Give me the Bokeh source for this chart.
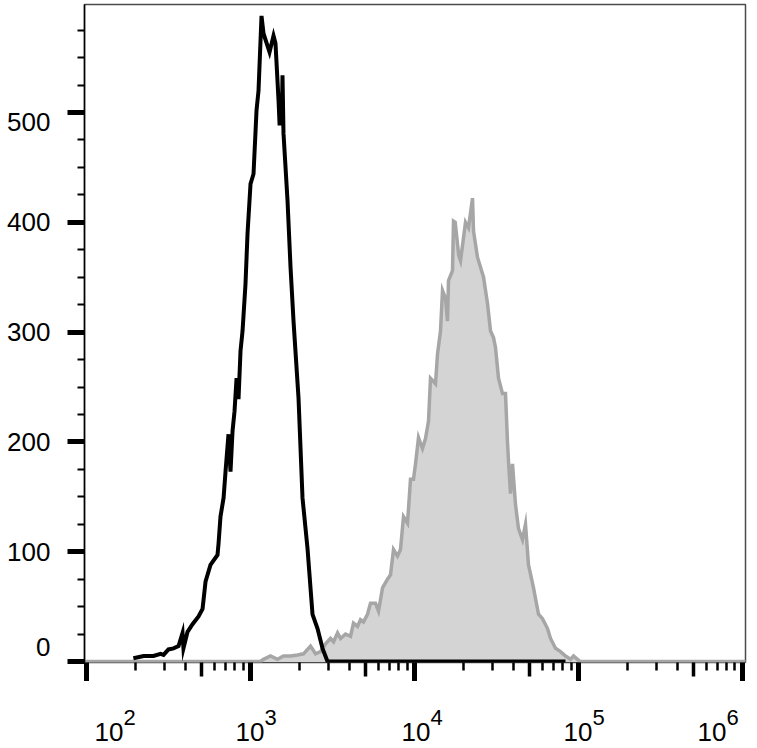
from bokeh.plotting import figure
from bokeh.layouts import column
from bokeh.models import Range1d, LogAxis, FixedTicker, SingleIntervalTicker
from bokeh.core.properties import value
from bokeh.embed import file_html
from bokeh.resources import INLINE

# ---------------- data ----------------
# control histogram (black line)
ctrl_x = [193, 223, 256, 283, 295, 316, 339, 364, 385, 390, 413, 443, 482, 510, 532,
          570, 629, 638, 656, 685, 704, 734, 755, 777, 799, 822, 845, 869, 894, 932,
          959, 1000, 1043, 1088, 1119, 1167, 1200, 1306, 1381, 1420, 1482, 1503, 1550,
          1567, 1589, 1681, 1754, 1829, 1962, 2075, 2226, 2388, 2562, 2748, 2948, 83300]
ctrl_y = [3, 5, 5, 7, 6, 11, 12, 14, 26, 12, 27, 34, 41, 48, 73,
          88, 97, 107, 132, 149, 173, 207, 173, 210, 228, 258, 239, 283, 301, 344,
          390, 435, 444, 502, 520, 588, 572, 555, 570, 563, 511, 490, 490,
          534, 481, 420, 359, 310, 240, 149, 103, 43, 30, 12, 0, 0]

# stained histogram (grey filled)
stain_x = [97, 1150, 1200, 1324, 1461, 1589, 1754, 1935, 2105, 2322, 2491, 2672, 2867,
           3075, 3208, 3393, 3539, 3796, 4072, 4246, 4491, 4685, 4887, 5168, 5391, 5783,
           6033, 6381, 6844, 7140, 7447, 7875, 8213, 8568, 9064, 9454, 9860, 10141, 10578,
           11187, 11669, 12172, 12516, 13428, 13809, 14405, 14816, 15453, 15892, 16117,
           17048, 17289, 17700, 18600, 19078, 20464, 21345, 22575, 22895, 24222, 25266,
           26354, 27866, 29069, 30317, 31177, 32523, 34394, 35873, 36898, 37500, 38486,
           39580, 41286, 43063, 45545, 47506, 49554, 53164, 57038, 60324, 64714, 67501,
           72416, 77685, 83336, 89393, 93236, 98606, 102000, 1050000]
stain_y = [0, 0, 2, 5, 2, 5, 5, 6, 7, 14, 7, 9, 16,
           21, 18, 26, 21, 25, 23, 35, 32, 38, 36, 43, 53, 53,
           46, 67, 75, 79, 102, 96, 102, 132, 126, 166, 166, 180, 204,
           194, 203, 219, 258, 253, 280, 301, 338, 331, 310, 347,
           356, 401, 400, 370, 365, 400, 395, 422, 392, 368, 359,
           350, 326, 301, 295, 286, 258, 244, 244, 200, 180, 153,
           180, 143, 121, 111, 125, 88, 67, 43, 39, 30, 21,
           12, 9, 5, 2, 5, 2, 0, 0]

# axes
x_decades = [1e2, 1e3, 1e4, 1e5, 1e6]
x_base_labels = ["10", "10", "10", "10", "10"]
x_exponents = ["2", "3", "4", "5", "6"]
x_half = [5e2, 5e3, 5e4, 5e5]
x_minor = [m * 10 ** n for n in range(2, 6) for m in (2, 3, 4, 6, 7, 8, 9)]
y_ticks = [0, 100, 200, 300, 400, 500]

# ---------------- styles ----------------
FONT = "Liberation Sans"
X_START, X_END = 97.2, 1.043e6
base_dx = [8, -15, -13, -15, -45]       # px shift of "10" per label
sup_dx = [d + 29 for d in base_dx]

p = figure(width=757, height=681, x_axis_type="log", title=None,
           x_range=Range1d(X_START, X_END), y_range=Range1d(-0.9, 598.4),
           output_backend="svg", toolbar_location=None,
           min_border_left=84, min_border_right=12, min_border_top=4, min_border_bottom=19)
p.grid.visible = False
p.outline_line_color = "#4a4a4a"
p.outline_line_width = 1.5
p.background_fill_color = "white"
p.border_fill_color = "white"

# near axis: medium ticks at 5x10^n, short minor ticks
xa = p.xaxis[0]
xa.ticker = FixedTicker(ticks=x_half, minor_ticks=x_minor)
xa.axis_line_color = None
xa.major_tick_in = 0
xa.major_tick_out = 14
xa.major_tick_line_width = 3.5
xa.major_tick_line_color = "black"
xa.minor_tick_in = 0
xa.minor_tick_out = 8
xa.minor_tick_line_width = 2.5
xa.minor_tick_line_color = "black"
xa.major_label_text_font_size = "0px"
xa.major_label_text_color = None
xa.major_label_standoff = 0

# second axis: long decade ticks reaching back to the frame
xa2 = LogAxis(ticker=FixedTicker(ticks=x_decades, minor_ticks=[]),
              axis_line_color=None, major_tick_in=14, major_tick_out=5,
              major_tick_line_width=5, major_tick_line_color="black",
              minor_tick_in=0, minor_tick_out=0,
              major_label_text_font_size="0px", major_label_text_color=None,
              major_label_standoff=0)
p.add_layout(xa2, "below")

ya = p.yaxis[0]
ya.ticker = SingleIntervalTicker(interval=100, num_minor_ticks=4)
ya.axis_line_color = "black"
ya.axis_line_width = 1.5
ya.major_tick_in = 0
ya.major_tick_out = 17
ya.major_tick_line_width = 5
ya.major_tick_line_color = "black"
ya.minor_tick_in = 0
ya.minor_tick_out = 7
ya.minor_tick_line_width = 2
ya.minor_tick_line_color = "black"
ya.major_label_text_font = FONT
ya.major_label_text_font_size = "26px"
ya.major_label_text_color = "black"
ya.major_label_standoff = 17
ya.major_label_text_line_height = 0.65
ya.major_label_overrides = {0: "0\n", 500: "\n500"}

# histograms
p.varea(x=stain_x, y1=0, y2=stain_y, fill_color="#d4d4d4")
p.line(stain_x, stain_y, line_color="#a6a6a6", line_width=3.5, line_join="miter")
p.line(ctrl_x, ctrl_y, line_color="black", line_width=4, line_join="miter")

# x tick labels ("10" with raised exponent) in a strip sharing the x scale
q = figure(width=757, height=67, x_axis_type="log", x_range=p.x_range, title=None,
           y_range=Range1d(0, 1), x_axis_location=None, y_axis_location=None,
           output_backend="svg", toolbar_location=None,
           min_border_left=84, min_border_right=12, min_border_top=0, min_border_bottom=0)
q.grid.visible = False
q.outline_line_color = None
q.background_fill_color = "white"
q.border_fill_color = "white"
q.text(x=x_decades, y=[1] * 5, text=x_base_labels, x_offset=base_dx, y_offset=50,
       text_font=value(FONT), text_font_size="26px", text_color="black",
       text_align="left", text_baseline="alphabetic")
q.text(x=x_decades, y=[1] * 5, text=x_exponents, x_offset=sup_dx, y_offset=36,
       text_font=value(FONT), text_font_size="22px", text_color="black",
       text_align="left", text_baseline="alphabetic")

layout = column(p, q, spacing=0)
open("out.html", "w").write(file_html(layout, INLINE))
